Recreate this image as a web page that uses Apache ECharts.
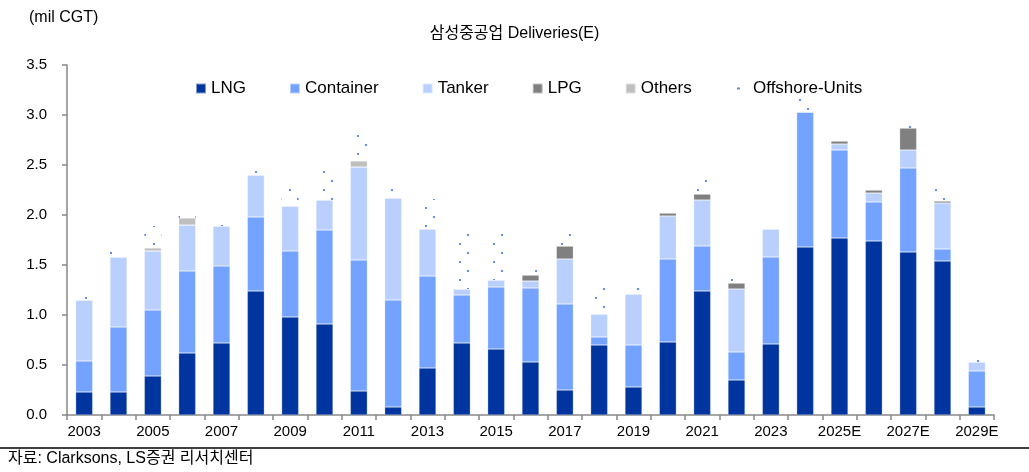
<!DOCTYPE html>
<html>
<head>
<meta charset="utf-8">
<script src="https://cdn.jsdelivr.net/npm/echarts@6/dist/echarts.min.js"></script>
<style>
html, body { margin: 0; padding: 0; background: #fff; }
#main { width: 1029px; height: 472px; }
</style>
</head>
<body>
<div id="main"></div>
<script>
var years = ['2003', '2004', '2005', '2006', '2007', '2008', '2009', '2010', '2011', '2012',
	'2013', '2014', '2015', '2016', '2017', '2018', '2019', '2020', '2021', '2022',
	'2023', '2024', '2025E', '2026E', '2027E', '2028E', '2029E'];
var lng = [0.23, 0.23, 0.39, 0.62, 0.72, 1.24, 0.98, 0.91, 0.24, 0.08, 0.47, 0.72, 0.66, 0.53,
	0.25, 0.70, 0.28, 0.73, 1.24, 0.35, 0.71, 1.68, 1.77, 1.74, 1.63, 1.54, 0.08];
var container = [0.31, 0.65, 0.66, 0.82, 0.77, 0.74, 0.66, 0.94, 1.31, 1.07, 0.92, 0.48, 0.62, 0.74,
	0.86, 0.08, 0.42, 0.83, 0.45, 0.28, 0.87, 1.35, 0.88, 0.39, 0.84, 0.12, 0.36];
var tanker = [0.61, 0.70, 0.59, 0.46, 0.40, 0.42, 0.45, 0.30, 0.93, 1.02, 0.47, 0.06, 0.07, 0.07,
	0.45, 0.23, 0.51, 0.43, 0.46, 0.63, 0.28, 0, 0.06, 0.09, 0.18, 0.46, 0.09];
var lpg = [0, 0, 0, 0, 0, 0, 0, 0, 0, 0, 0, 0, 0, 0.06,
	0.13, 0, 0, 0.03, 0.06, 0.06, 0, 0, 0.03, 0.03, 0.22, 0.02, 0];
var others = [0, 0, 0.03, 0.07, 0, 0, 0, 0, 0.06, 0, 0, 0, 0, 0,
	0, 0, 0, 0, 0, 0, 0, 0, 0, 0, 0, 0, 0];
var offshore = [0.07, 0.05, 0.22, 0.02, 0.02, 0.10, 0.23, 0.33, 0.29, 0.15, 0.30, 0.56, 0.46, 0.06,
	0.12, 0.30, 0.09, 0.04, 0.20, 0.06, 0, 0.14, 0, 0, 0.05, 0.18, 0.09];

var fontLatin = "'Liberation Sans', 'Noto Sans CJK KR', sans-serif";
var dotColor = '#5d8ff5';

var chart = echarts.init(document.getElementById('main'));

function barSeries(name, values, color) {
	return {
		name: name,
		type: 'bar',
		stack: 'total',
		barWidth: 17,
		itemStyle: { color: color, borderColor: 'rgba(255,255,255,0.5)', borderWidth: 0.5 },
		emphasis: { disabled: true },
		data: values
	};
}

// offshore units: white bar with a sparse dot pattern
var offshoreSeries = barSeries('Offshore-Units', offshore, '#fff');
offshoreSeries.itemStyle = {
	color: '#fff',
	decal: {
		symbol: 'rect',
		symbolSize: 1,
		color: dotColor,
		dashArrayX: [[2, 15], [0, 8, 2, 7]],
		dashArrayY: [2, 6.5]
	}
};

var option = {
	animation: false,
	backgroundColor: '#fff',
	title: {
		text: '삼성중공업 Deliveries(E)',
		left: 'center',
		top: 21,
		textStyle: { fontSize: 16, fontWeight: 'normal', color: '#000', fontFamily: fontLatin }
	},
	legend: [{
		left: 195,
		top: 80,
		padding: 0,
		itemWidth: 10,
		itemHeight: 10,
		itemGap: 43,
		icon: 'rect',
		textStyle: { fontSize: 17, color: '#000', fontFamily: fontLatin },
		data: ['LNG', 'Container', 'Tanker', 'LPG', 'Others']
	}, {
		left: 737,
		top: 80,
		padding: 0,
		itemWidth: 3,
		itemHeight: 2,
		icon: 'rect',
		textStyle: { fontSize: 17, color: '#000', fontFamily: fontLatin, padding: [0, 0, 0, 8] },
		data: [{ name: 'Offshore-Units', itemStyle: { color: dotColor, decal: 'none' } }]
	}],
	grid: { left: 67, right: 35, top: 65, bottom: 57 },
	xAxis: {
		type: 'category',
		data: years,
		axisLine: { lineStyle: { color: '#888', width: 1.5 } },
		axisTick: { show: true, interval: 0, length: 5, lineStyle: { color: '#888', width: 1.5 } },
		axisLabel: {
			interval: 1,
			margin: 9,
			fontSize: 15,
			color: '#000',
			fontFamily: fontLatin
		}
	},
	yAxis: {
		type: 'value',
		min: 0,
		max: 3.5,
		interval: 0.5,
		splitLine: { show: false },
		axisLine: { show: true, lineStyle: { color: '#888', width: 1.5 } },
		axisTick: { show: true, length: 5, lineStyle: { color: '#888', width: 1.5 } },
		axisLabel: {
			margin: 20,
			fontSize: 15,
			color: '#000',
			fontFamily: fontLatin,
			formatter: function(v) { return v.toFixed(1); }
		}
	},
	graphic: [{
		type: 'text',
		left: 29,
		top: 10,
		style: { text: '(mil CGT)', fontSize: 16, fill: '#000', fontFamily: fontLatin }
	}, {
		type: 'line',
		shape: { x1: 0, y1: 448, x2: 1029, y2: 448 },
		style: { stroke: '#000', lineWidth: 1.5 }
	}, {
		type: 'text',
		left: 8,
		top: 451,
		style: { text: '자료: Clarksons, LS증권 리서치센터', fontSize: 16, fill: '#000', fontFamily: fontLatin }
	}],
	series: [
		barSeries('LNG', lng, '#0035a0'),
		barSeries('Container', container, '#74a2ff'),
		barSeries('Tanker', tanker, '#b9d0ff'),
		barSeries('LPG', lpg, '#808080'),
		barSeries('Others', others, '#bfbfbf'),
		offshoreSeries
	]
};

chart.setOption(option);
</script>
</body>
</html>
